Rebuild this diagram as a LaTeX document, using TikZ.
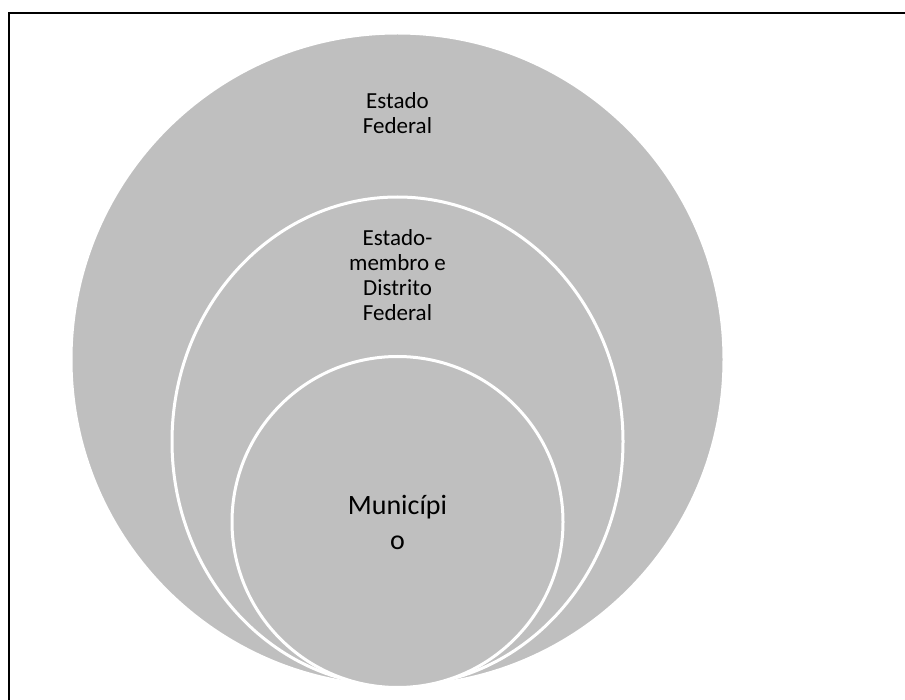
\documentclass[tikz,border=0pt]{standalone}
\usepackage{fontspec}
\setmainfont{Carlito}
\usetikzlibrary{shapes.geometric}
\definecolor{discgrey}{RGB}{191,191,191}
\tikzset{
  disc/.style={fill=discgrey, draw=white, line width=3pt, inner sep=0pt},
  label/.style={align=center, text=black, inner sep=0pt,
    font=\fontsize{23}{25}\selectfont},
  biglabel/.style={align=center, text=black, inner sep=0pt,
    font=\fontsize{28}{35}\selectfont}
}
\begin{document}
\begin{tikzpicture}[x=1pt, y=-1pt]
  \useasboundingbox (0,0) rectangle (905,700);
  % page frame (only its top and left edges fall inside the figure)
  \draw[line width=2pt] (905,13) -| (9,700);
  % three nested levels, all resting on the same bottom point
  \node[disc, circle, minimum size=653pt] (federal) at (397.5,359.5) {};
  \node[disc, ellipse, minimum width=451pt, minimum height=489pt] (estadual) at (397.5,441.5) {};
  \node[disc, circle, minimum size=331pt] (municipal) at (397.5,522) {};
  % level names
  \node[label] (tfederal) at (397.5,113) {Estado\\Federal};
  \node[label] (testadual) at (397.5,275) {Estado-\\membro e\\Distrito\\Federal};
  \node[biglabel] (tmunicipal) at (397.5,522) {Municípi\\o};
\end{tikzpicture}
\end{document}
